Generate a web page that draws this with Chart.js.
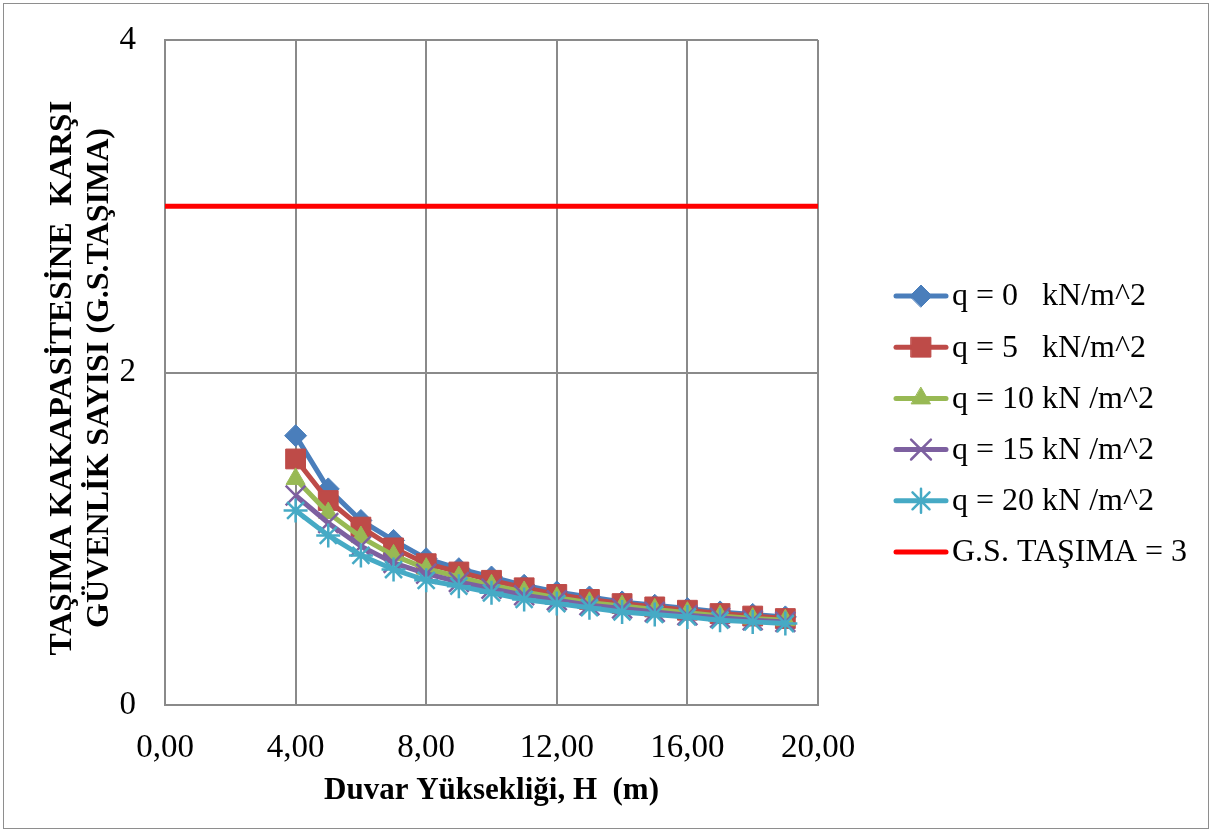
<!DOCTYPE html>
<html>
<head>
<meta charset="utf-8">
<script src="https://cdn.jsdelivr.net/npm/chart.js@4.4.1/dist/chart.umd.min.js"></script>
<style>
    html, body { margin: 0; padding: 0; background: #fff; }
    canvas { display: block; }
</style>
</head>
<body>
<canvas id="gs-chart" width="1213" height="833"></canvas>
<script>
// ── 資料 ──
const heights = [4, 5, 6, 7, 8, 9, 10, 11, 12, 13, 14, 15, 16, 17, 18, 19];

const gsQ0  = [1.62, 1.30, 1.11, 0.99, 0.88, 0.82, 0.77, 0.72, 0.68, 0.65, 0.62, 0.60, 0.58, 0.56, 0.545, 0.53];
const gsQ5  = [1.48, 1.23, 1.07, 0.945, 0.85, 0.80, 0.75, 0.705, 0.665, 0.635, 0.61, 0.59, 0.57, 0.55, 0.535, 0.52];
const gsQ10 = [1.36, 1.155, 1.01, 0.90, 0.82, 0.77, 0.72, 0.68, 0.645, 0.615, 0.595, 0.575, 0.555, 0.535, 0.52, 0.51];
const gsQ15 = [1.26, 1.095, 0.955, 0.855, 0.79, 0.74, 0.70, 0.66, 0.63, 0.60, 0.58, 0.56, 0.54, 0.525, 0.51, 0.50];
const gsQ20 = [1.17, 1.02, 0.90, 0.815, 0.75, 0.715, 0.675, 0.635, 0.61, 0.585, 0.56, 0.545, 0.53, 0.51, 0.50, 0.49];

// 安全係數門檻線
const limitX = [0, 20];
const limitY = [3, 3];

const seriesLabels = [
    'q = 0   kN/m^2',
    'q = 5   kN/m^2',
    'q = 10 kN /m^2',
    'q = 15 kN /m^2',
    'q = 20 kN /m^2',
    'G.S. TAŞIMA = 3'
];

const yTitleLines = ['TAŞIMA KAKAPASİTESİNE  KARŞI', 'GÜVENLİK SAYISI (G.S.TAŞIMA)'];
const xTitle = 'Duvar Yüksekliği, H  (m)';

const SERIF = '"Liberation Serif", "Times New Roman", serif';

// 線條樣式
const STYLES = [
    { color: '#4A7EBB', point: 'rectRot',  radius: 11, pw: 1 },
    { color: '#BE4B48', point: 'rect',     radius: 14, pw: 1 },
    { color: '#98B954', point: 'triangle', radius: 11, pw: 1 },
    { color: '#7D60A0', point: 'crossRot', radius: 14, pw: 2.5 },
    { color: '#46AAC5', point: 'star',     radius: 12, pw: 2.5 },
    { color: '#FF0000', point: false,      radius: 0,  pw: 0 }
];

const toXY = (xs, ys) => xs.map((x, i) => ({ x: x, y: ys[i] }));

const seriesData = [gsQ0, gsQ5, gsQ10, gsQ15, gsQ20].map(s => toXY(heights, s));
seriesData.push(toXY(limitX, limitY));

const datasets = seriesData.map((data, i) => ({
    label: seriesLabels[i],
    data: data,
    borderColor: STYLES[i].color,
    backgroundColor: STYLES[i].color,
    borderWidth: 5,
    pointStyle: STYLES[i].point,
    pointRadius: STYLES[i].radius,
    pointBorderWidth: STYLES[i].pw,
    pointBorderColor: STYLES[i].color,
    pointBackgroundColor: STYLES[i].color,
    tension: 0,
    clip: false,
    order: i === 5 ? 0 : 5 - i
}));

// ── 標題、圖例、外框 ──
const decorPlugin = {
    id: 'decor',
    afterDraw(chart) {
        const ctx = chart.ctx;
        const area = chart.chartArea;
        ctx.save();

        // 外框
        ctx.strokeStyle = '#8E8E8E';
        ctx.lineWidth = 1;
        ctx.strokeRect(3.5, 3.5, 1205, 825);

        // Y 軸標題（兩行，旋轉）
        ctx.fillStyle = '#000';
        ctx.font = 'bold 31px ' + SERIF;
        ctx.textAlign = 'center';
        ctx.textBaseline = 'middle';
        const yLines = [
            { text: yTitleLines[0], x: 63, len: 555 },
            { text: yTitleLines[1], x: 100, len: 500 }
        ];
        yLines.forEach(l => {
            const w = ctx.measureText(l.text).width;
            ctx.save();
            ctx.translate(l.x, 378);
            ctx.rotate(-Math.PI / 2);
            ctx.scale(l.len / w, 1);
            ctx.fillText(l.text, 0, 0);
            ctx.restore();
        });

        // X 軸標題
        ctx.font = 'bold 31px ' + SERIF;
        ctx.fillText(xTitle, (area.left + area.right) / 2, 791);

        // 圖例
        ctx.font = '32px ' + SERIF;
        ctx.textAlign = 'left';
        seriesLabels.forEach((label, i) => {
            const y = 296 + i * 51.2;
            const st = STYLES[i];
            ctx.strokeStyle = st.color;
            ctx.fillStyle = st.color;
            ctx.lineWidth = 5;
            ctx.lineCap = 'round';
            ctx.beginPath();
            ctx.moveTo(896, y);
            ctx.lineTo(946, y);
            ctx.stroke();
            if (st.point) {
                ctx.lineWidth = st.pw;
                Chart.helpers.drawPoint(ctx, {
                    pointStyle: st.point,
                    radius: st.radius,
                    rotation: 0,
                    borderWidth: st.pw
                }, 921, y);
            }
            ctx.fillStyle = '#000';
            ctx.fillText(label, 952, y + 1);
        });

        ctx.restore();
    }
};

new Chart(document.getElementById('gs-chart').getContext('2d'), {
    type: 'line',
    data: { datasets: datasets },
    plugins: [decorPlugin],
    options: {
        responsive: false,
        animation: false,
        events: [],
        layout: { padding: { left: 0, right: 395, top: 40, bottom: 0 } },
        plugins: {
            legend: { display: false },
            tooltip: { enabled: false }
        },
        scales: {
            x: {
                type: 'linear',
                min: 0,
                max: 20,
                afterFit: s => { s.height = 128; },
                ticks: {
                    stepSize: 4,
                    padding: 24,
                    color: '#000',
                    font: { family: SERIF, size: 33 },
                    callback: v => v.toFixed(2).replace('.', ',')
                },
                grid: { color: '#8A8A8A', lineWidth: 2, drawTicks: false },
                border: { color: '#8A8A8A', width: 2 }
            },
            y: {
                type: 'linear',
                min: 0,
                max: 4,
                afterFit: s => {
                    s.width = 165;
                    s.paddingTop = 0;
                    s.paddingBottom = 0;
                },
                ticks: {
                    stepSize: 2,
                    padding: 29,
                    color: '#000',
                    font: { family: SERIF, size: 33 }
                },
                grid: { color: '#8A8A8A', lineWidth: 2, drawTicks: false },
                border: { color: '#8A8A8A', width: 2 }
            }
        }
    }
});
</script>
</body>
</html>
